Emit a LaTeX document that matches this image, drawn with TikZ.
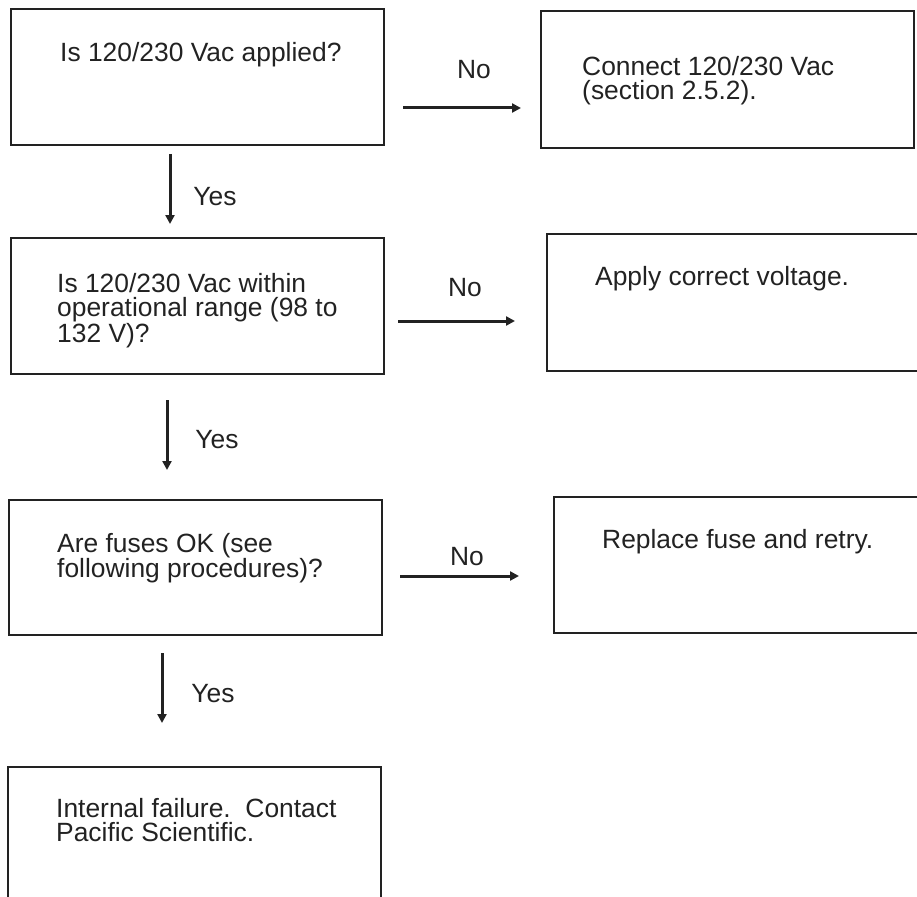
\documentclass[tikz,border=0pt]{standalone}
\usepackage{fontspec}
\setmainfont{Liberation Sans}
\usetikzlibrary{arrows.meta}
\definecolor{ink}{HTML}{222222}
\tikzset{
  box/.style={draw=ink, line width=2pt, rectangle, inner sep=0pt, anchor=north west},
  txt/.style={text=ink, inner sep=0pt, anchor=north west, align=left,
              font=\fontsize{26.4}{24.5}\selectfont},
  lbl/.style={text=ink, inner sep=0pt, anchor=center,
              font=\fontsize{26.4}{24.5}\selectfont},
  arr/.style={draw=ink, line width=3pt, -{Triangle[length=9pt,width=9pt]}}
}
\begin{document}
\begin{tikzpicture}[x=1pt,y=-1pt]
\useasboundingbox (0,0) rectangle (917,896);
\clip (0,0) rectangle (917,896);
% boxes
\node[box, minimum width=373pt, minimum height=136pt] (b1) at (10,8) {};
\node[box, minimum width=373pt, minimum height=137pt] (b2) at (540,10) {};
\node[box, minimum width=373pt, minimum height=136pt] (b3) at (10,237) {};
\node[box, minimum width=400pt, minimum height=137pt] (b4) at (546,233) {};
\node[box, minimum width=373pt, minimum height=135pt] (b5) at (8,499) {};
\node[box, minimum width=400pt, minimum height=136pt] (b6) at (553,496) {};
\node[box, minimum width=373pt, minimum height=160pt] (b7) at (7,766) {};
% texts
\node[txt] (t1) at (60,42) {Is 120/230 Vac applied?};
\node[txt] (t2) at (582,56) {Connect 120/230 Vac\\(section 2.5.2).};
\node[txt] (t3) at (57,273) {Is 120/230 Vac within\\operational range (98 to\\132 V)?};
\node[txt] (t4) at (595,266) {Apply correct voltage.};
\node[txt] (t5) at (57,533) {Are fuses OK (see\\following procedures)?};
\node[txt] (t6) at (602,529) {Replace fuse and retry.};
\node[txt] (t7) at (56,798) {Internal failure.\ \ Contact\\Pacific Scientific.};
% connector ends
\coordinate (n1s) at (403,108); \coordinate (n1e) at (521,108);
\coordinate (n2s) at (398,321); \coordinate (n2e) at (515,321);
\coordinate (n3s) at (400,576); \coordinate (n3e) at (519,576);
\coordinate (y1s) at (170,154); \coordinate (y1e) at (170,224);
\coordinate (y2s) at (167,400); \coordinate (y2e) at (167,470);
\coordinate (y3s) at (162,653); \coordinate (y3e) at (162,723);
% arrows
\draw[arr] (n1s) -- (n1e);
\draw[arr] (n2s) -- (n2e);
\draw[arr] (n3s) -- (n3e);
\draw[arr] (y1s) -- (y1e);
\draw[arr] (y2s) -- (y2e);
\draw[arr] (y3s) -- (y3e);
% labels
\node[lbl] (l1) at (474,70) {No};
\node[lbl] (l2) at (465,288) {No};
\node[lbl] (l3) at (467,557) {No};
\node[lbl] (l4) at (215,197) {Yes};
\node[lbl] (l5) at (217,440) {Yes};
\node[lbl] (l6) at (213,694) {Yes};
\end{tikzpicture}
\end{document}
